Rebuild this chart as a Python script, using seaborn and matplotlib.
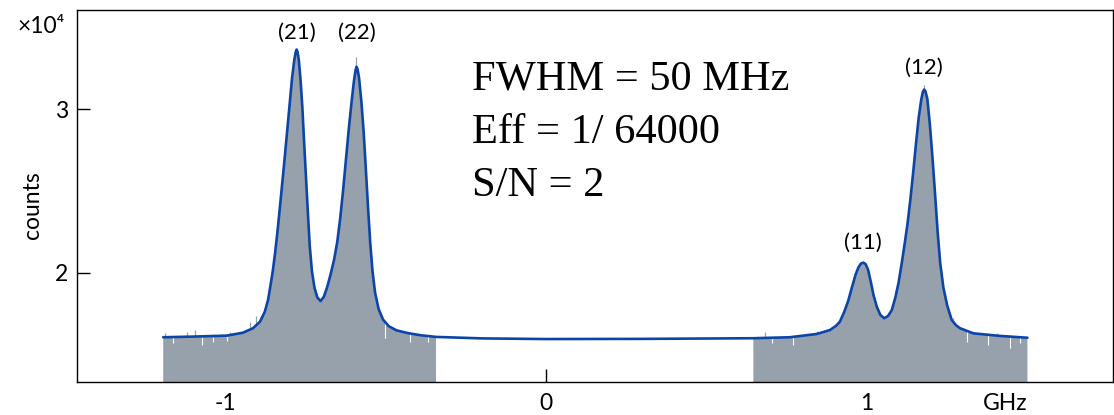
import numpy as np
import pandas as pd
import matplotlib
matplotlib.use("Agg")
import matplotlib.pyplot as plt
import seaborn as sns

# fitted spectrum (counts in units of 10^4)
fit_ghz = [-1.194, -1.100, -0.995, -0.945, -0.914, -0.892, -0.877, -0.867, -0.860, -0.853,
           -0.845, -0.836, -0.827, -0.818, -0.809, -0.800, -0.792, -0.785, -0.781, -0.778,
           -0.775, -0.771, -0.766, -0.760, -0.755, -0.749, -0.743, -0.737, -0.730, -0.722,
           -0.713, -0.703, -0.693, -0.683, -0.672, -0.661, -0.651, -0.642, -0.633, -0.624,
           -0.615, -0.606, -0.599, -0.594, -0.591, -0.588, -0.583, -0.576, -0.569, -0.562,
           -0.555, -0.548, -0.541, -0.533, -0.522, -0.508, -0.490, -0.466, -0.430, -0.390,
           -0.343, -0.200, 0.000, 0.300, 0.647, 0.761, 0.845, 0.886, 0.905, 0.917,
           0.930, 0.943, 0.955, 0.966, 0.975, 0.983, 0.990, 0.997, 1.005, 1.013,
           1.022, 1.032, 1.043, 1.055, 1.067, 1.079, 1.090, 1.100, 1.110, 1.120,
           1.128, 1.137, 1.146, 1.155, 1.163, 1.171, 1.176, 1.180, 1.184, 1.190,
           1.198, 1.206, 1.214, 1.222, 1.230, 1.240, 1.252, 1.266, 1.280, 1.292,
           1.333, 1.417, 1.502]
fit_counts = [1.608, 1.612, 1.618, 1.636, 1.663, 1.703, 1.764, 1.835, 1.916, 2.000,
              2.120, 2.280, 2.460, 2.640, 2.830, 3.020, 3.190, 3.300, 3.345, 3.363,
              3.350, 3.300, 3.190, 3.014, 2.820, 2.600, 2.380, 2.170, 2.010, 1.910,
              1.850, 1.829, 1.855, 1.910, 1.990, 2.080, 2.190, 2.330, 2.500, 2.690,
              2.880, 3.050, 3.170, 3.235, 3.258, 3.245, 3.190, 3.050, 2.870, 2.640,
              2.400, 2.180, 2.010, 1.880, 1.780, 1.715, 1.675, 1.650, 1.633, 1.620,
              1.610, 1.601, 1.597, 1.598, 1.602, 1.608, 1.628, 1.652, 1.678, 1.703,
              1.760, 1.830, 1.915, 1.990, 2.035, 2.058, 2.063, 2.055, 2.020, 1.950,
              1.865, 1.795, 1.745, 1.724, 1.737, 1.774, 1.850, 1.940, 2.060, 2.190,
              2.300, 2.450, 2.620, 2.800, 2.950, 3.060, 3.105, 3.119, 3.108, 3.060,
              2.900, 2.700, 2.480, 2.250, 2.060, 1.910, 1.800, 1.713, 1.680, 1.663,
              1.632, 1.616, 1.605]

# measured frequency spans (grey histogram)
scan_start = [-1.194, 0.647]
scan_end = [-0.343, 1.502]

# noise bins sticking out above the fit
spike_ghz = [-1.189, -1.121, -1.095, -0.985, -0.924, -0.905, -0.591, 0.683, 0.845, 0.907, 1.180, 1.271, 1.406]
spike_top = [1.632, 1.642, 1.652, 1.642, 1.701, 1.738, 3.319, 1.642, 1.648, 1.689, 3.146, 1.726, 1.636]

# noise bins falling below the fit
dip_ghz = [-1.163, -1.074, -1.039, -0.994, -0.502, -0.424, -0.367, 0.704, 0.772, 1.313, 1.380, 1.448, 1.479]
dip_low = [1.573, 1.561, 1.581, 1.588, 1.602, 1.581, 1.581, 1.575, 1.561, 1.581, 1.561, 1.541, 1.573]
dip_high = [1.608, 1.610, 1.612, 1.618, 1.700, 1.635, 1.615, 1.604, 1.608, 1.645, 1.625, 1.612, 1.608]

peak_names = ["(21)", "(22)", "(11)", "(12)"]
peak_ghz = [-0.778, -0.591, 0.990, 1.180]
label_counts = [3.463, 3.463, 2.183, 3.250]

fit_info = ["FWHM = 50 MHz", "Eff = 1/ 64000", "S/N = 2"]

sns.set_theme(style="ticks")
plt.rcParams["font.family"] = ["Lato", "DejaVu Sans"]
plt.rcParams["axes.unicode_minus"] = False
for key in ["text.color", "axes.labelcolor", "xtick.color", "ytick.color", "axes.edgecolor"]:
    plt.rcParams[key] = "black"

grey = "#96a1ac"
blue = "#0c45a8"
y_low, y_high = 1.335, 3.607

fig = plt.figure(figsize=(11.14, 4.15), dpi=100)
ax = fig.add_axes([0.0691, 0.0795, 0.9297, 0.8976])

df = pd.DataFrame({"ghz": fit_ghz, "counts": fit_counts})
in_scan = np.zeros(len(df), dtype=bool)
for a, b in zip(scan_start, scan_end):
    in_scan |= (df["ghz"] >= a) & (df["ghz"] <= b)

ax.fill_between(df["ghz"], y_low, df["counts"], where=in_scan, color=grey, lw=0)
ax.vlines(spike_ghz, y_low, spike_top, color=grey, lw=0.9)
ax.vlines(dip_ghz, dip_low, dip_high, color="white", lw=0.8)

sns.lineplot(data=df, x="ghz", y="counts", ax=ax, color=blue, lw=1.9, sort=False)

for name, x, y in zip(peak_names, peak_ghz, label_counts):
    ax.text(x, y, name, ha="center", va="center", fontsize=16)

for i, line in enumerate(fit_info):
    fig.text(0.4234, 0.7855 - i * 0.1290, line, ha="left", va="baseline",
             fontsize=30.5, family="Liberation Serif")

ax.set_xlim(-1.463, 1.768)
ax.set_ylim(y_low, y_high)
ax.set_xticks([-1, 0, 1, 1.432], ["-1", "0", "1", "GHz"])
ax.xaxis.get_major_ticks()[3].tick1line.set_visible(False)
ax.set_yticks([2, 3], ["2", "3"])
ax.tick_params(direction="in", length=9.5, width=1, labelsize=16.5, color="black")
ax.tick_params(axis="x", pad=8)
ax.tick_params(axis="y", pad=6.5)
for s in ax.spines.values():
    s.set_visible(True)
    s.set_color("black")
    s.set_linewidth(1)

ax.set_xlabel("")
ax.set_ylabel("counts", fontsize=16.5)
ax.yaxis.set_label_coords(-0.033, 0.475)

fig.text(18 / 1114, 1 - 33 / 415, "×10⁴", ha="left", va="baseline", fontsize=16.5)

fig.savefig("out.png", dpi=100)
